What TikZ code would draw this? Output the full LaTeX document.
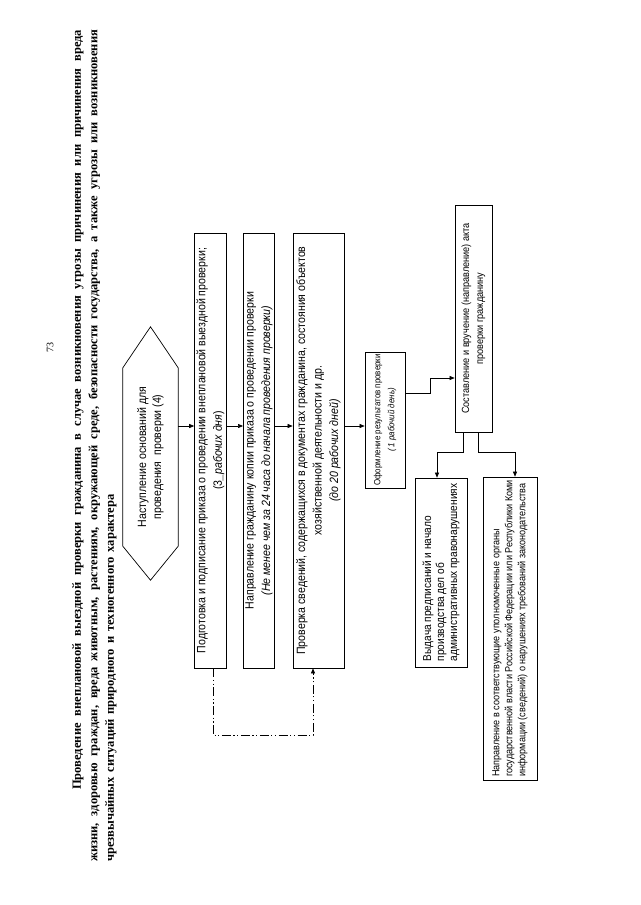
\documentclass[tikz,border=0pt]{standalone}
\usepackage{fontspec}
\setmainfont{Liberation Serif}
\newfontfamily\boxfont[FakeStretch=0.88]{Liberation Sans}
\usetikzlibrary{arrows.meta,calc}
\tikzset{
  box/.style={draw, line width=0.7pt, rotate=90, inner sep=2pt, align=center},
  arr/.style={-{Triangle[length=5pt,width=4pt]}, line width=0.6pt},
  dashdot/.style={dash pattern=on 9pt off 2.5pt on 1.2pt off 2.5pt on 1.2pt off 2.5pt, line width=0.9pt},
  fbig/.style={font={\boxfont\fontsize{12}{16.5}\selectfont}},
}
\begin{document}
\begin{tikzpicture}[x=1pt,y=1pt]
\fill[white] (0,0) rectangle (640,-905);
\useasboundingbox (0,0) rectangle (640,-905);

% page number
\node[rotate=90, font=\fontsize{10}{12}\selectfont] (pnum) at (50,-347) {73};

% title
\node[rotate=90, anchor=north west, inner sep=0pt, align=left,
      font={\bfseries\fontsize{12.5}{16.5}\selectfont}] (title) at (72,-862)
{\hspace*{72pt}\makebox[760pt][s]{Проведение внеплановой выездной проверки гражданина в случае возникновения угрозы причинения или причинения вреда}\\
\makebox[832pt][s]{жизни, здоровью граждан, вреда животным, растениям, окружающей среде, безопасности государства, а также угрозы или возникновения}\\
{\spaceskip=5pt plus 1pt чрезвычайных ситуаций природного и техногенного характера}};

% hexagon
\node[rotate=90, inner sep=2pt, align=center, minimum width=178pt, minimum height=55pt,
      font={\boxfont\fontsize{12}{15}\selectfont}] (hex) at (150.5,-457)
{Наступление оснований для\\проведения\ \ проверки (4)};
\draw[line width=0.7pt] (hex.north west) -- (hex.north east) -- ($(hex.east)+(0,41)$)
  -- (hex.south east) -- (hex.south west) -- ($(hex.west)+(0,-34)$) -- cycle;

% main boxes
\node[box, fbig, minimum width=435pt, minimum height=31pt] (b1) at (210.5,-450.5)
{Подготовка и подписание приказа о проведении внеплановой выездной проверки;\\(3\textit{\_рабочих дня})};
\node[box, fbig, minimum width=435pt, minimum height=28pt] (b2) at (259,-450.5)
{Направление гражданину копии приказа о проведении проверки\\\textit{(Не менее чем за 24 часа до начала проведения проверки)}};
\node[box, fbig, minimum width=435pt, minimum height=51pt] (b3) at (318.5,-450.5)
{Проверка сведений, содержащихся в документах гражданина, состояния объектов\\хозяйственной деятельности и др.\\\textit{(до 20 рабочих дней)}};

\node[box, font={\boxfont\fontsize{9}{14}\selectfont}, minimum width=136pt, minimum height=40pt] (ofo) at (385,-420)
{Оформление результатов проверки\\\textit{( 1 рабочий день)}};

\node[box, font={\boxfont\fontsize{10.4}{14}\selectfont}, minimum width=227pt, minimum height=37pt] (sost) at (473.5,-318.5)
{Составление и вручение (направление) акта\\проверки гражданину};

\node[box, align=left, font={\boxfont\fontsize{11.5}{13}\selectfont}, minimum width=189pt, minimum height=52pt] (vyd) at (441,-572.5)
{Выдача предписаний и начало\\производства дел об\\административных правонарушениях};

\node[box, align=left, font={\boxfont\fontsize{10.3}{13}\selectfont}, minimum width=303pt, minimum height=54pt] (napr) at (510,-628.5)
{Направление в соответствующие уполномоченные органы\\государственной власти Российской Федерации или Республики Коми\\информации (сведений) о нарушениях требований законодательства};

% connectors
\coordinate (lvl) at (0,-426);
\draw[arr] (hex.south |- lvl) -- (b1.north |- lvl);
\draw[arr] (b1.south |- lvl) -- (b2.north |- lvl);
\draw[arr] (b2.south |- lvl) -- (b3.north |- lvl);
\draw[arr] (b3.south |- lvl) -- (ofo.north |- lvl);

\coordinate (k1) at (430,-393);
\draw[arr] (ofo.south |- k1) -- (k1) |- (sost.north |- 0,-378);

\coordinate (ka) at (463,-452);
\coordinate (kb) at (478,-452);
\draw[arr] (sost.west -| ka) -- (ka) -| (vyd.east -| 437,0);
\draw[arr] (sost.west -| kb) -- (kb) -| (napr.east -| 515,0);

\coordinate (d1) at (213,-735);
\coordinate (d2) at (313,-735);
\draw[dashdot, arr] (b1.west -| d1) -- (d1) -- (d2) -- (b3.west -| d2);
\end{tikzpicture}
\end{document}
